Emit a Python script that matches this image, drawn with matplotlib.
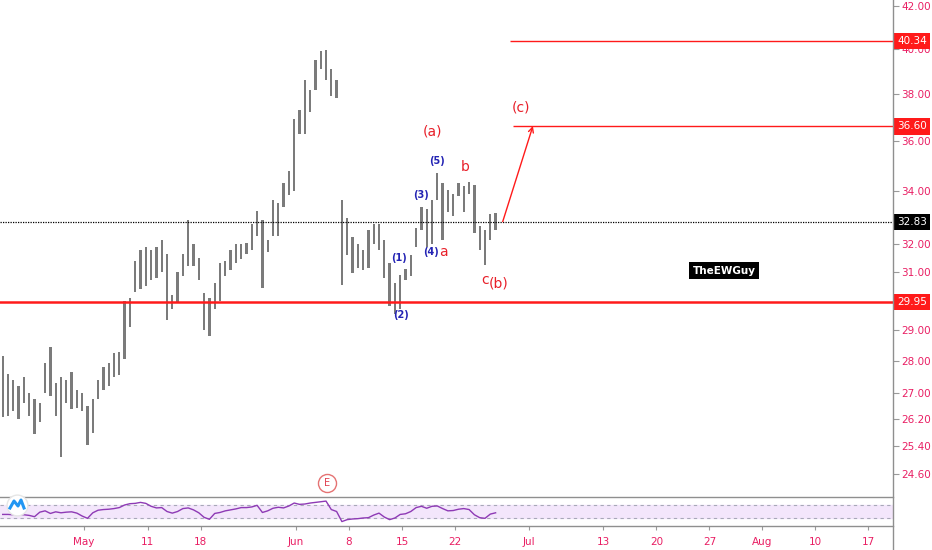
import numpy as np
import pandas as pd
import matplotlib
matplotlib.use("Agg")
import matplotlib.pyplot as plt
import matplotlib.transforms as mtransforms
from matplotlib.lines import Line2D
from matplotlib.ticker import FixedLocator, FormatStrFormatter, NullLocator, NullFormatter

# =========================
# DATA
# =========================
START_DAY = "2020-04-21"
END_DAY = "2020-08-31"
HOLIDAYS = ["2020-05-25", "2020-07-03"]
BARS_PER_DAY = 2

bar_high = [28.15, 27.6, 27.4, 27.2, 27.5, 27.0, 26.8, 26.7, 27.95, 28.45,
            27.3, 27.5, 27.4, 27.65, 27.1, 27.0, 26.6, 26.8, 27.4, 27.8,
            27.95, 28.25, 28.3, 30.0, 30.1, 31.4, 31.8, 31.9, 31.8, 31.9,
            32.15, 31.65, 30.2, 31.0, 31.65, 32.9, 32.0, 31.5, 30.25, 30.1,
            30.6, 31.3, 31.4, 31.8, 32.0, 32.0, 32.05, 32.75, 33.25, 32.9,
            32.15, 33.65, 33.55, 34.3, 34.8, 36.9, 37.3, 38.6, 38.15, 39.5,
            39.9, 39.95, 39.1, 38.6, 33.65, 32.95, 32.25, 32.0, 31.8, 32.5,
            32.75, 32.75, 32.15, 31.3, 30.6, 30.9, 31.1, 31.6, 32.6, 33.4,
            33.3, 33.65, 34.7, 34.3, 34.05, 33.9, 34.3, 34.2, 34.35, 34.25,
            32.65, 32.5, 33.1, 33.15]
bar_low = [26.25, 26.3, 26.45, 26.2, 26.7, 26.3, 25.75, 26.1, 27.0, 26.9,
           26.3, 25.1, 26.7, 26.5, 26.55, 26.45, 25.45, 25.8, 26.8, 27.1,
           27.2, 27.5, 27.55, 28.05, 29.1, 30.3, 30.4, 30.5, 30.7, 30.8,
           31.0, 29.35, 29.7, 29.9, 30.85, 31.2, 31.2, 30.7, 29.0, 28.8,
           29.7, 30.0, 30.85, 31.05, 31.3, 31.45, 31.65, 31.8, 32.3, 30.45,
           31.7, 32.3, 32.3, 33.4, 33.85, 34.0, 36.3, 36.3, 37.2, 38.15,
           39.1, 38.6, 37.9, 37.8, 30.55, 31.6, 30.95, 31.15, 31.05, 31.15,
           32.0, 31.8, 30.8, 29.8, 29.55, 29.7, 30.7, 30.85, 31.9, 32.5,
           31.9, 32.0, 33.65, 32.15, 33.2, 33.05, 33.8, 33.2, 33.9, 32.4,
           31.8, 31.25, 32.15, 32.5]
rsi_values = [41, 41, 40, 40, 40, 38, 34, 48, 52, 44,
              49, 46, 48, 49, 45, 36, 29, 46, 54, 56,
              57, 59, 62, 70, 74, 75, 78, 75, 66, 61,
              62, 50, 45, 50, 59, 61, 55, 46, 32, 26,
              44, 47, 52, 55, 58, 62, 62, 64, 69, 47,
              52, 60, 63, 61, 67, 76, 72, 73, 76, 78,
              80, 82, 56, 50, 19, 25, 27, 28, 30, 31,
              39, 45, 33, 25, 30, 41, 43, 50, 62, 66,
              60, 66, 67, 59, 52, 53, 57, 59, 56, 40,
              31, 29, 42, 46]

last_price = 32.83
support = 29.95
target_1 = 36.60
target_2 = 40.34

price_ticks = [24.60, 25.40, 26.20, 27.00, 28.00, 29.00, 31.00, 32.00,
               34.00, 36.00, 38.00, 40.00, 42.00]

date_ticks = ["2020-05-01", "2020-05-11", "2020-05-18", "2020-06-01", "2020-06-08",
              "2020-06-15", "2020-06-22", "2020-07-01", "2020-07-13", "2020-07-20",
              "2020-07-27", "2020-08-03", "2020-08-10", "2020-08-17"]
date_labels = ["May", "11", "18", "Jun", "8", "15", "22", "Jul", "13", "20",
               "27", "Aug", "10", "17"]

# wave labels: text, x (trading-day index), price, colour, size
RED = "#e8202a"
BLUE = "#2424b4"
wave_labels = [
    ("(a)", 40.92, 36.41, RED, 10),
    ("(5)", 41.30, 35.18, BLUE, 7),
    ("(3)", 39.79, 33.84, BLUE, 7),
    ("(1)", 37.72, 31.49, BLUE, 7),
    ("(2)", 37.90, 29.51, BLUE, 7),
    ("(4)", 40.73, 31.71, BLUE, 7),
    ("a", 41.87, 31.71, RED, 10),
    ("b", 43.94, 34.94, RED, 10),
    ("c", 45.83, 30.72, RED, 10),
    ("(b)", 47.15, 30.60, RED, 10),
    ("(c)", 49.23, 37.42, RED, 10),
]

# =========================
# TRADING CALENDAR
# =========================
days = pd.bdate_range(START_DAY, END_DAY)
days = days[~days.isin(pd.to_datetime(HOLIDAYS))]
day_pos = {d: i for i, d in enumerate(days)}
tick_pos = [day_pos[pd.Timestamp(d)] for d in date_ticks]

n = len(bar_high)
bar_pos = np.arange(n) / BARS_PER_DAY + 0.33
bar_high = np.array(bar_high)
bar_low = np.array(bar_low)

PINK = "#e91e63"
GRID_GRAY = "#9a9a9a"
plt.rcParams["font.family"] = ["DejaVu Sans"]

# =========================
# FIGURE LAYOUT
# =========================
W, H = 932, 550
fig = plt.figure(figsize=(W / 100, H / 100), dpi=100)
ax = fig.add_axes([0, (H - 497) / H, 893 / W, 497 / H])
ax_rsi = fig.add_axes([0, (H - 526) / H, 893 / W, 29 / H], sharex=ax)

XMIN, XMAX = 0.0755, 84.32

# =========================
# PRICE PANEL
# =========================
ax.bar(bar_pos, bar_high - bar_low, bottom=bar_low, width=0.22,
       color="#7b7b7b", linewidth=0, zorder=2)

ax.axhline(last_price, color="black", linestyle=(0, (1, 1)), linewidth=0.9, zorder=3)
ax.axhline(support, color="#ff1a1a", linewidth=1.8, zorder=3)
ax.hlines(target_2, 48.19, XMAX, color="#ff1a1a", linewidth=1.0, zorder=3)
ax.hlines(target_1, 48.47, XMAX, color="#ff1a1a", linewidth=1.0, zorder=3)
ax.annotate("", xy=(50.35, 36.62), xytext=(47.5, last_price),
            arrowprops=dict(arrowstyle="->", color="#ff1a1a", lw=1.0,
                            shrinkA=0, shrinkB=0, mutation_scale=9), zorder=4)

for txt, x, y, col, size in wave_labels:
    ax.text(x, y, txt, color=col, fontsize=size, ha="center", va="center",
            fontweight="bold" if col == BLUE else "normal", zorder=5)

ax.text(68.38, 31.04, "TheEWGuy", color="white", fontsize=7.5, ha="center",
        va="center", fontweight="bold",
        bbox=dict(boxstyle="square,pad=0.35", fc="black", ec="none"), zorder=5)

# event marker
ax.plot([30.92], [24.35], marker="o", markersize=13, mfc="white",
        mec="#e57373", mew=1.0, clip_on=False, zorder=5)
ax.text(30.92, 24.35, "E", color="#e04050", fontsize=7, ha="center",
        va="center", zorder=6)

ax.set_yscale("log")
ax.set_ylim(23.97, 42.29)
ax.set_xlim(XMIN, XMAX)
ax.yaxis.tick_right()
ax.yaxis.set_major_locator(FixedLocator(price_ticks))
ax.yaxis.set_major_formatter(FormatStrFormatter("%.2f"))
ax.yaxis.set_minor_locator(NullLocator())
ax.yaxis.set_minor_formatter(NullFormatter())
ax.tick_params(axis="y", length=4, color=GRID_GRAY, labelcolor=PINK,
               labelsize=7.5, pad=2)
ax.tick_params(axis="x", bottom=False, labelbottom=False)
for side in ["top", "left", "bottom", "right"]:
    ax.spines[side].set_visible(False)

# price labels on the right scale
blend = mtransforms.blended_transform_factory(ax.transAxes, ax.transData)
for val, fc in [(target_2, "#ff1a1a"), (target_1, "#ff1a1a"),
                (support, "#ff1a1a"), (last_price, "black")]:
    ax.text(1.0 + 4 / 893, val, f"{val:.2f}", transform=blend, color="white",
            fontsize=7.5, ha="left", va="center", clip_on=False, zorder=10,
            bbox=dict(boxstyle="square,pad=0.3", fc=fc, ec="none"))

# =========================
# RSI PANEL
# =========================
ax_rsi.axhspan(30, 70, color="#f3e6fb", zorder=1)
ax_rsi.axhline(70, color="#a8a8b8", linestyle=(0, (3, 3)), linewidth=0.8, zorder=2)
ax_rsi.axhline(30, color="#a8a8b8", linestyle=(0, (3, 3)), linewidth=0.8, zorder=2)
ax_rsi.plot(bar_pos, rsi_values, color="#8e3ab5", linewidth=1.0, zorder=3)
ax_rsi.set_ylim(5.4, 94.6)
ax_rsi.set_yticks([])
ax_rsi.set_xlim(XMIN, XMAX)
ax_rsi.set_xticks(tick_pos)
ax_rsi.set_xticklabels(date_labels)
ax_rsi.tick_params(axis="x", length=3, color=GRID_GRAY, labelcolor=PINK,
                   labelsize=7.5, pad=5)
for side in ["left", "right"]:
    ax_rsi.spines[side].set_visible(False)
for side in ["top", "bottom"]:
    ax_rsi.spines[side].set_color("#8f8f8f")
    ax_rsi.spines[side].set_linewidth(1.0)

# price-scale vertical line through all panes
fig.add_artist(Line2D([893 / W, 893 / W], [0, 1], color="#8f8f8f",
                      linewidth=1.0, transform=fig.transFigure))

# chart-provider badge in the indicator pane
lx, ly = 17 / W, 1 - 505 / H
fig.add_artist(Line2D([lx], [ly], marker="o", markersize=15, mfc="white",
                      mec="#e6e6e6", transform=fig.transFigure))
fig.add_artist(Line2D([lx - 7 / W, lx - 3 / W, lx + 1 / W, lx + 4 / W, lx + 7 / W],
                      [ly - 3 / H, ly + 4 / H, ly - 1 / H, ly + 5 / H, ly - 3 / H],
                      color="#2196f3", linewidth=2.2, transform=fig.transFigure))

fig.savefig("out.png", dpi=100)
